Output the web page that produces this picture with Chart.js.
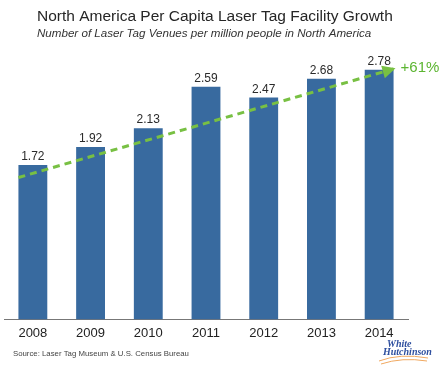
<!DOCTYPE html>
<html><head><meta charset="utf-8">
<script src="https://cdn.jsdelivr.net/npm/chart.js@4/dist/chart.umd.min.js"></script>
<style>html,body{margin:0;padding:0;background:#fff}#wrap{width:440px;height:373px;position:relative}</style>
</head><body><div id="wrap"><canvas id="c" width="440" height="373"></canvas></div>
<script>
const categories = ['2008','2009','2010','2011','2012','2013','2014'];
const venuesPerMillion = [1.72,1.92,2.13,2.59,2.47,2.68,2.78];
const trendX = [-0.25, 6.25];
const trendY = [1.58, 2.79];
const growthLabel = '+61%';
const titleText = 'North America Per Capita Laser Tag Facility Growth';
const subtitleText = 'Number of Laser Tag Venues per million people in North America';
const sourceText = 'Source: Laser Tag Museum & U.S. Census Bureau';

const FONT = '"Liberation Sans", Arial, Helvetica, sans-serif';
const BAR = '#386a9f';
const GREEN = '#78c043';

const overlay = {
  id: 'overlay',
  afterDatasetsDraw(chart) {
    const ctx = chart.ctx;
    ctx.save();
    const bm = chart.getDatasetMeta(0);
    ctx.fillStyle = '#2b2b2b';
    ctx.font = '12px ' + FONT;
    ctx.textAlign = 'center';
    ctx.textBaseline = 'alphabetic';
    bm.data.forEach((el, i) => {
      ctx.fillText(venuesPerMillion[i].toFixed(2), el.x, el.y - 5);
    });
    const lm = chart.getDatasetMeta(1);
    const p0 = lm.data[0], p1 = lm.data[lm.data.length - 1];
    const ang = Math.atan2(p1.y - p0.y, p1.x - p0.x);
    const L = 11, W = 6.5;
    ctx.fillStyle = GREEN;
    ctx.beginPath();
    ctx.moveTo(p1.x + Math.cos(ang) * 2, p1.y + Math.sin(ang) * 2);
    ctx.lineTo(p1.x - Math.cos(ang) * L + Math.sin(ang) * W, p1.y - Math.sin(ang) * L - Math.cos(ang) * W);
    ctx.lineTo(p1.x - Math.cos(ang) * L - Math.sin(ang) * W, p1.y - Math.sin(ang) * L + Math.cos(ang) * W);
    ctx.closePath();
    ctx.fill();
    ctx.fillStyle = '#5cb531';
    ctx.font = '15px ' + FONT;
    ctx.textAlign = 'left';
    ctx.fillText(growthLabel, p1.x + 7, p1.y + 3);
    ctx.restore();
  },
  afterDraw(chart) {
    const ctx = chart.ctx;
    ctx.save();
    ctx.textAlign = 'left';
    ctx.textBaseline = 'alphabetic';
    ctx.fillStyle = '#262626';
    ctx.font = '15.5px ' + FONT;
    ctx.fillText(titleText, 37, 21);
    ctx.font = 'italic 11.6px ' + FONT;
    ctx.fillStyle = '#333';
    ctx.fillText(subtitleText, 37, 37);
    ctx.font = '7.8px ' + FONT;
    ctx.fillStyle = '#444';
    ctx.fillText(sourceText, 13, 356);
    ctx.fillStyle = '#2e4f9f';
    ctx.font = 'italic bold 10px "Liberation Serif", serif';
    ctx.fillText('White', 387, 347);
    ctx.fillText('Hutchinson', 383, 355);
    ctx.strokeStyle = '#f0a860';
    ctx.lineWidth = 1;
    ctx.beginPath();
    ctx.moveTo(379, 361); ctx.quadraticCurveTo(400, 353, 428, 358);
    ctx.stroke();
    ctx.beginPath();
    ctx.moveTo(381, 364); ctx.quadraticCurveTo(402, 357, 427, 361);
    ctx.stroke();
    ctx.restore();
  }
};

new Chart(document.getElementById('c'), {
  type: 'bar',
  data: {
    labels: categories,
    datasets: [
      { type: 'bar', data: venuesPerMillion, backgroundColor: BAR, barPercentage: 0.5, categoryPercentage: 1.0, grouped: false, order: 2 },
      { type: 'line', xAxisID: 'x2', data: trendX.map((x, i) => ({ x: x, y: trendY[i] })),
        borderColor: GREEN, borderWidth: 3, borderDash: [7, 5], pointRadius: 0, fill: false, order: 1, clip: false }
    ]
  },
  options: {
    responsive: false,
    animation: false,
    layout: { padding: { left: 4, right: 32, top: 50, bottom: 34 } },
    plugins: { legend: { display: false }, tooltip: { enabled: false }, title: { display: false } },
    scales: {
      x: {
        type: 'category', offset: true,
        grid: { display: false },
        border: { display: true, color: '#777', width: 1 },
        ticks: { color: '#222', font: { family: FONT, size: 13 }, padding: -2 }
      },
      x2: { type: 'linear', min: -0.5, max: 6.5, offset: false, display: false },
      y: { min: 0, max: 3, display: false }
    }
  },
  plugins: [overlay]
});
</script></body></html>
